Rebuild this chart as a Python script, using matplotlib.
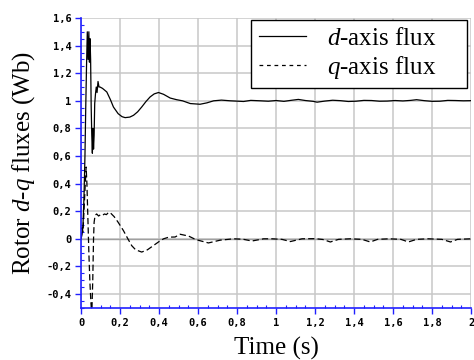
import matplotlib
matplotlib.use("Agg")
import matplotlib.pyplot as plt
from matplotlib.lines import Line2D
from matplotlib.ticker import MultipleLocator, FixedLocator

plt.rcParams["mathtext.fontset"] = "custom"
plt.rcParams["mathtext.rm"] = "Liberation Serif"
plt.rcParams["mathtext.it"] = "Liberation Serif:italic"

# d-axis rotor flux (Wb) vs time (s)
t_d = [0, 0.005, 0.01, 0.015, 0.02, 0.024, 0.028, 0.032, 0.036, 0.04, 0.043,
       0.046, 0.049, 0.052, 0.055, 0.058, 0.061, 0.064, 0.067, 0.07, 0.074,
       0.078, 0.082, 0.087, 0.092, 0.097, 0.11, 0.132, 0.15, 0.166, 0.19,
       0.21, 0.226, 0.25, 0.269, 0.29, 0.311, 0.333, 0.354, 0.375, 0.397,
       0.423, 0.457, 0.49, 0.52, 0.56, 0.61, 0.645, 0.68, 0.72, 0.765, 0.833,
       0.87, 0.919, 0.96, 1.0, 1.04, 1.08, 1.114, 1.15, 1.19, 1.21, 1.25,
       1.29, 1.33, 1.37, 1.41, 1.45, 1.49, 1.53, 1.57, 1.61, 1.65, 1.69,
       1.72, 1.76, 1.8, 1.84, 1.88, 1.92, 1.96, 2.0]
flux_d = [0, 0.03, 0.1, 0.3, 0.6, 0.95, 1.25, 1.5, 1.3, 1.5, 1.28,
          1.45, 1.3, 0.95, 0.75, 0.62, 0.8, 0.65, 0.75, 0.98, 1.05,
          1.1, 1.06, 1.14, 1.1, 1.1, 1.09, 1.064, 1.01, 0.955, 0.907,
          0.885, 0.878, 0.882, 0.895, 0.92, 0.955, 0.995, 1.028, 1.05, 1.06,
          1.047, 1.02, 1.008, 1.0, 0.98, 0.975, 0.985, 1.0, 1.005, 1.0, 0.995,
          1.003, 1.0, 0.997, 1.002, 0.996, 1.004, 1.01, 1.002, 0.996, 0.99, 0.998,
          1.004, 1.001, 0.995, 0.997, 1.003, 1.002, 0.997, 0.998, 1.002, 0.999, 1.003,
          1.008, 1.001, 0.996, 0.997, 1.003, 1.002, 1.0, 1.001]

# q-axis rotor flux (Wb) vs time (s)
t_q = [0, 0.005, 0.01, 0.015, 0.02, 0.026, 0.03, 0.035, 0.04, 0.045, 0.05,
       0.055, 0.06, 0.064, 0.067, 0.072, 0.08, 0.09, 0.1, 0.11, 0.12, 0.13,
       0.14, 0.149, 0.17, 0.19, 0.217, 0.24, 0.26, 0.28, 0.311, 0.34, 0.37,
       0.4, 0.423, 0.45, 0.482, 0.508, 0.551, 0.58, 0.602, 0.653, 0.713,
       0.782, 0.83, 0.876, 0.936, 0.98, 1.03, 1.073, 1.133, 1.2, 1.24, 1.278,
       1.32, 1.38, 1.44, 1.483, 1.52, 1.58, 1.64, 1.678, 1.72, 1.78, 1.85,
       1.894, 1.93, 2.0]
flux_q = [0, 0.08, 0.05, 0.2, 0.35, 0.52, 0.4, 0.15, -0.1, -0.3, -0.45,
          -0.55, -0.3, 0.0, 0.12, 0.17, 0.18, 0.165, 0.175, 0.17, 0.18, 0.175,
          0.19, 0.19, 0.16, 0.12, 0.06, 0.0, -0.05, -0.08, -0.096, -0.08, -0.05,
          -0.02, 0.0, 0.012, 0.013, 0.033, 0.02, 0.0, -0.011, -0.03, -0.01,
          0.0, -0.003, -0.016, 0.0, 0.0, -0.004, -0.02, 0.0, 0.001, -0.005, -0.023,
          -0.004, 0.0, -0.004, -0.023, -0.004, 0.0, -0.004, -0.023, -0.004, 0.0, -0.004,
          -0.023, -0.004, 0.0]

x_ticks = [0, 0.2, 0.4, 0.6, 0.8, 1.0, 1.2, 1.4, 1.6, 1.8, 2.0]
x_labels = ["0", "0,2", "0,4", "0,6", "0,8", "1",
            "1,2", "1,4", "1,6", "1,8", "2"]
y_ticks = [-0.4, -0.2, 0, 0.2, 0.4, 0.6, 0.8, 1.0, 1.2, 1.4, 1.6]
y_labels = ["-0,4", "-0,2", "0", "0,2", "0,4", "0,6",
            "0,8", "1", "1,2", "1,4", "1,6"]

axis_blue = "#2020ff"
grid_grey = "#c8c8c8"

fig = plt.figure(figsize=(4.74, 3.6), dpi=100)
ax = fig.add_axes([0.171, 0.145, 0.823, 0.805])

ax.plot(t_d, flux_d, color="black", lw=0.9)
ax.plot(t_q, flux_q, color="black", lw=0.9, dashes=(5, 2.5))

ax.set_xlim(0, 2)
ax.set_ylim(-0.5, 1.6)

ax.xaxis.set_major_locator(FixedLocator(x_ticks))
ax.yaxis.set_major_locator(FixedLocator(y_ticks))
ax.xaxis.set_minor_locator(MultipleLocator(0.05))
ax.yaxis.set_minor_locator(MultipleLocator(0.05))

tick_font = dict(family="DejaVu Sans Mono", weight="bold", size=7.5)
ax.set_xticklabels(x_labels, **tick_font)
ax.set_yticklabels(y_labels, **tick_font)

ax.tick_params(which="major", direction="out", length=4, width=1,
               color=axis_blue, pad=3)
ax.tick_params(which="minor", direction="in", length=2, width=0.8,
               color=axis_blue)

ax.grid(True, which="major", color=grid_grey, lw=1.1)
ax.axhline(0, color="#a0a0a0", lw=1.0, zorder=1)
ax.set_axisbelow(True)

for side in ("top", "right"):
    ax.spines[side].set_visible(False)
for side in ("left", "bottom"):
    ax.spines[side].set_color(axis_blue)
    ax.spines[side].set_linewidth(1.2)

ax.set_xlabel("Time (s)", family="Liberation Serif", size=18, labelpad=7)
ax.set_ylabel("Rotor $d$-$q$ fluxes (Wb)", family="Liberation Serif", size=18)
ax.yaxis.set_label_coords(-0.113, 0.5)

handles = [Line2D([], [], color="black", lw=0.9),
           Line2D([], [], color="black", lw=0.9, dashes=(3, 3))]
leg = ax.legend(handles, ["$d$-axis flux", "$q$-axis flux"],
                loc="upper left", bbox_to_anchor=(0.436, 0.0, 0.554, 0.993),
                mode="expand", borderaxespad=0.0,
                prop=dict(family="Liberation Serif", size=18),
                fancybox=False, framealpha=1, edgecolor="black",
                handlelength=1.9, handletextpad=0.85,
                labelspacing=0.15, borderpad=0.3)
leg.get_frame().set_linewidth(1.0)

fig.savefig("out.png", dpi=100)
